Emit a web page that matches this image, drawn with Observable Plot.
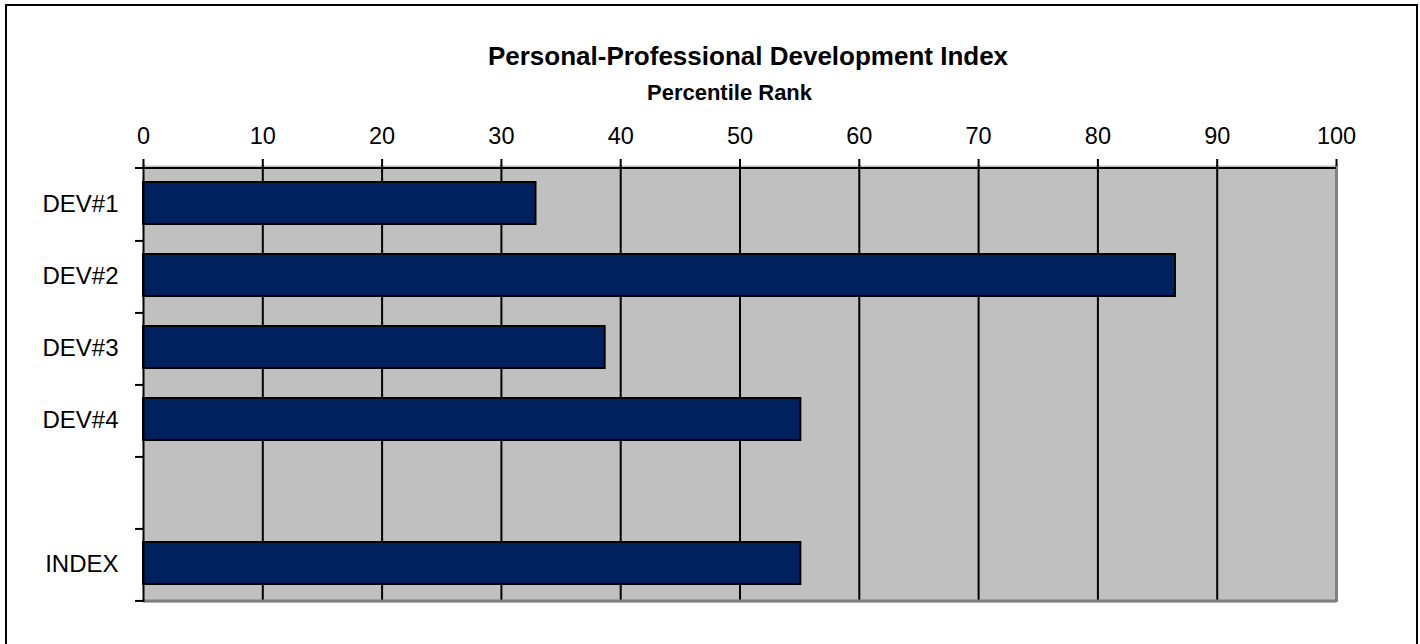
<!DOCTYPE html>
<html>
<head>
<meta charset="utf-8">
<script src="https://cdn.jsdelivr.net/npm/d3@7"></script>
<script src="https://cdn.jsdelivr.net/npm/@observablehq/plot@0.6"></script>
<style>
  html, body { margin: 0; padding: 0; background: #fff; }
  #wrap { position: relative; width: 1420px; height: 644px; overflow: hidden; }
  #border { position: absolute; left: 5px; top: 4px; width: 1413px; height: 660px; box-sizing: border-box; border: 2px solid #000; pointer-events: none; }
  svg { font-family: "Liberation Sans", Arial, sans-serif; }
</style>
</head>
<body>
<div id="wrap"><div id="border"></div></div>
<script>
const title = "Personal-Professional Development Index";
const subtitle = "Percentile Rank";
const categories = ["DEV#1", "DEV#2", "DEV#3", "DEV#4", "", "INDEX"];
const barCategories = ["DEV#1", "DEV#2", "DEV#3", "DEV#4", "INDEX"];
const values = [32.9, 86.5, 38.7, 55.1, 55.1];
const xTicks = [0, 10, 20, 30, 40, 50, 60, 70, 80, 90, 100];

const data = barCategories.map((c, i) => ({category: c, value: values[i]}));

const W = 1420, H = 644;
const mTop = 165, mBottom = 42, mLeft = 143, mRight = 84;
const step = (H - mTop - mBottom) / categories.length;
const gridTicks = xTicks.filter(t => t > xTicks[0] && t < xTicks[xTicks.length - 1]);
const xMax = xTicks[xTicks.length - 1];

const chart = Plot.plot({
  width: W,
  height: H,
  marginTop: mTop,
  marginBottom: mBottom,
  marginLeft: mLeft,
  marginRight: mRight,
  style: {fontFamily: '"Liberation Sans", Arial, sans-serif', color: "#000", background: "transparent"},
  x: {domain: [0, xMax], label: null},
  y: {domain: categories, padding: 0, label: null},
  marks: [
    Plot.frame({fill: "#c0c0c0"}),
    Plot.ruleX(gridTicks, {stroke: "#000", strokeWidth: 2}),
    Plot.ruleX([xMax], {stroke: "#808080", strokeWidth: 3}),
    Plot.ruleY([categories[categories.length - 1]], {dy: step / 2, x1: 0, x2: xMax, stroke: "#808080", strokeWidth: 3}),
    Plot.barX(data, {y: "category", x: "value", fill: "#00205e", stroke: "#000", strokeWidth: 2, insetTop: 14, insetBottom: 16}),
    Plot.ruleX([0], {stroke: "#000", strokeWidth: 2}),
    Plot.ruleY([categories[0]], {dy: -step / 2, x1: -0.67, x2: xMax, stroke: "#000", strokeWidth: 2}),
    Plot.ruleY(categories, {dy: step / 2, x1: -0.67, x2: 0, stroke: "#000", strokeWidth: 2}),
    Plot.axisX({anchor: "top", ticks: xTicks, tickSize: 7, tickPadding: 15, fontSize: 23.5, strokeWidth: 2, label: null, tickFormat: d => String(d)}),
    Plot.axisY({anchor: "left", tickSize: 0, tickPadding: 25, fontSize: 24, label: null, tickFormat: d => d}),
    Plot.text([title], {text: d => d, frameAnchor: "top", dx: 8, dy: -101, lineAnchor: "bottom", fontSize: 26, fontWeight: "bold", fill: "#000"}),
    Plot.text([subtitle], {text: d => d, frameAnchor: "top", dx: -10.5, dy: -66, lineAnchor: "bottom", fontSize: 22, fontWeight: "bold", fill: "#000"})
  ]
});

document.getElementById("wrap").insertBefore(chart, document.getElementById("border"));
chart.style.position = "absolute";
chart.style.left = "0";
chart.style.top = "0";
</script>
</body>
</html>
